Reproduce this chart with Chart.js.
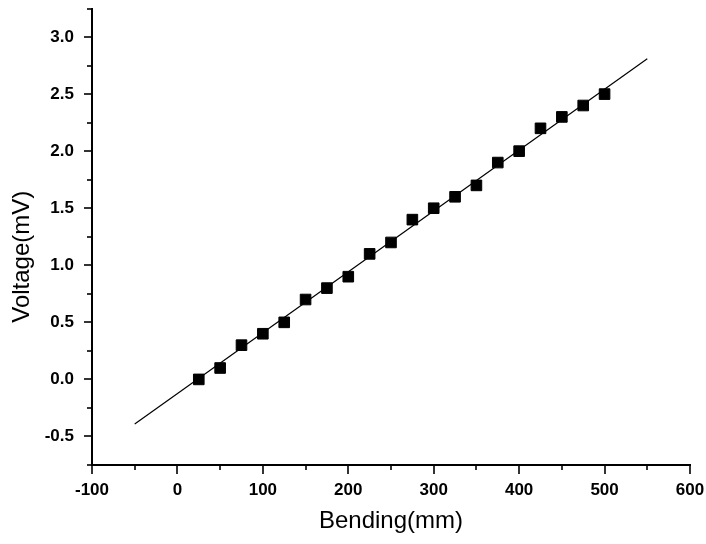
<!DOCTYPE html>
<html>
<head>
<meta charset="utf-8">
<script src="https://cdn.jsdelivr.net/npm/chart.js@4/dist/chart.umd.min.js"></script>
<style>
  html, body { margin: 0; padding: 0; background: #fff; }
  #wrap { width: 706px; height: 544px; }
</style>
</head>
<body>
<div id="wrap"><canvas id="bend_chart" width="706" height="544"></canvas></div>
<script>
const bending = [25, 50, 75, 100, 125, 150, 175, 200, 225, 250, 275, 300, 325, 350, 375, 400, 425, 450, 475, 500];
const voltage = [0, 0.1, 0.3, 0.4, 0.5, 0.7, 0.8, 0.9, 1.1, 1.2, 1.4, 1.5, 1.6, 1.7, 1.9, 2.0, 2.2, 2.3, 2.4, 2.5];
const fitX = [-50, 550];
const fitY = [-0.39, 2.81];

const isMajor = (v, step) => Math.abs(v / step - Math.round(v / step)) < 1e-6;

// drop the label overflow padding chart.js adds, layout padding decides the plot box
const noPad = (scale) => {
  scale.paddingTop = 0;
  scale.paddingBottom = 0;
  scale.paddingLeft = 0;
  scale.paddingRight = 0;
};

const tickMarks = {
  id: "tickMarks",
  afterDraw: (chart) => {
    const ctx = chart.ctx;
    const area = chart.chartArea;
    const xs = chart.scales.x;
    const ys = chart.scales.y;
    ctx.save();
    ctx.strokeStyle = "#000";
    ctx.lineWidth = 1.6;
    xs.ticks.forEach((t) => {
      const px = Math.round(xs.getPixelForValue(t.value));
      const len = isMajor(t.value, 100) ? 9 : 5;
      ctx.beginPath();
      ctx.moveTo(px, area.bottom);
      ctx.lineTo(px, area.bottom + len);
      ctx.stroke();
    });
    ys.ticks.forEach((t) => {
      const py = Math.round(ys.getPixelForValue(t.value));
      const len = isMajor(t.value, 0.5) ? 8 : 5;
      ctx.beginPath();
      ctx.moveTo(area.left, py);
      ctx.lineTo(area.left - len, py);
      ctx.stroke();
    });
    ctx.restore();
  },
};

const points = bending.map((b, i) => ({ x: b, y: voltage[i] }));
const fitLine = fitX.map((f, i) => ({ x: f, y: fitY[i] }));

const tickFont = { family: "'Liberation Sans', Arial, sans-serif", size: 17, weight: "bold" };
const titleFont = { family: "'Liberation Sans', Arial, sans-serif", size: 24 };

new Chart(document.getElementById("bend_chart"), {
  type: "scatter",
  data: {
    datasets: [
      {
        label: "fit",
        data: fitLine,
        showLine: true,
        borderColor: "#000",
        borderWidth: 1.2,
        pointRadius: 0,
        fill: false,
      },
      {
        label: "data",
        data: points,
        pointStyle: "rect",
        pointRadius: 7.5,
        pointBackgroundColor: "#000",
        pointBorderColor: "#000",
        pointBorderWidth: 1,
      },
    ],
  },
  options: {
    responsive: false,
    animation: false,
    plugins: { legend: { display: false }, tooltip: { enabled: false } },
    layout: { padding: { top: 5, right: 16, left: 0, bottom: 0 } },
    scales: {
      x: {
        type: "linear",
        min: -100,
        max: 600,
        afterFit: (scale) => { scale.height = 79; noPad(scale); },
        grid: { display: false, drawTicks: false },
        border: { display: true, color: "#000", width: 2 },
        ticks: {
          stepSize: 50,
          autoSkip: false,
          maxRotation: 0,
          padding: 15,
          color: "#000",
          font: tickFont,
          callback: (v) => (isMajor(v, 100) ? String(v) : ""),
        },
        title: {
          display: true,
          text: "Bending(mm)",
          color: "#000",
          font: titleFont,
          padding: { top: 0, bottom: 8 },
        },
      },
      y: {
        type: "linear",
        min: -0.75,
        max: 3.25,
        afterFit: (scale) => { scale.width = 92; noPad(scale); },
        grid: { display: false, drawTicks: false },
        border: { display: true, color: "#000", width: 2 },
        ticks: {
          stepSize: 0.25,
          autoSkip: false,
          padding: 18,
          color: "#000",
          font: tickFont,
          callback: (v) => (isMajor(v, 0.5) ? v.toFixed(1) : ""),
        },
        title: {
          display: true,
          text: "Voltage(mV)      ",
          color: "#000",
          font: titleFont,
          padding: { top: 8, bottom: 0 },
        },
      },
    },
  },
  plugins: [tickMarks],
});
</script>
</body>
</html>
